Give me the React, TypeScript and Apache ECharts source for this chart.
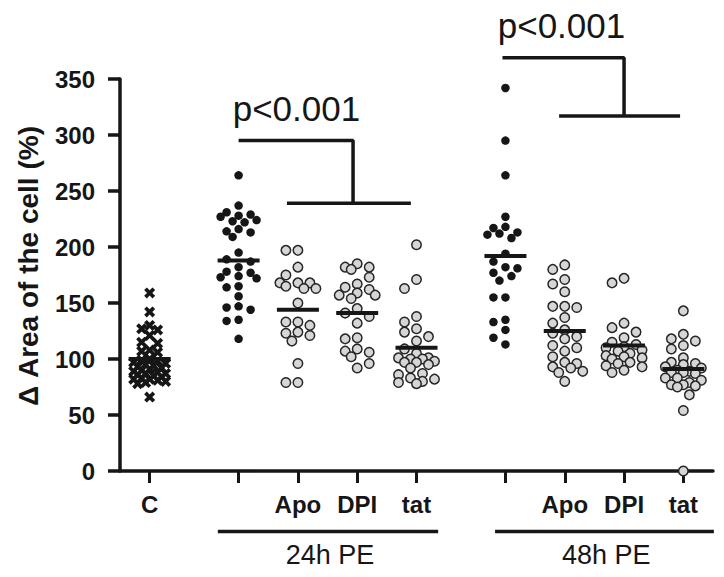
import React, { useEffect, useRef } from "react";
import * as echarts from "echarts";

// x-axis slots (half-unit spacing); empty strings are unlabeled slots
const axisCategories = ["", "C", "", "", "", "", "Apo", "", "DPI", "", "tat", "", "", "", "", "Apo", "", "DPI", "", "tat", ""];
const tickSlots = [1, 4, 6, 8, 10, 13, 15, 17, 19];

// values (Δ area of the cell, %)
const controlC = [159, 142, 130, 127, 126, 121, 115, 114, 108, 107, 106, 100, 99, 98, 97, 96, 95, 94, 93, 92, 91, 90, 89, 88, 87, 87, 86, 85, 84, 83, 82, 82, 81, 80, 79, 78, 66];
const pe24 = [264, 237, 231, 229, 228, 227, 224, 223, 222, 216, 214, 213, 209, 195, 189, 187, 182, 178, 177, 174, 173, 172, 165, 164, 156, 147, 146, 144, 135, 134, 118];
const apo24 = [197, 197, 182, 175, 168, 168, 168, 165, 163, 163, 150, 133, 133, 130, 124, 123, 121, 116, 96, 79, 79];
const dpi24 = [185, 182, 182, 180, 173, 167, 164, 162, 159, 157, 157, 154, 145, 141, 138, 132, 119, 118, 109, 107, 106, 102, 96, 92];
const tat24 = [202, 171, 163, 138, 133, 127, 124, 120, 116, 109, 105, 101, 101, 100, 100, 98, 97, 97, 95, 92, 87, 86, 83, 82, 80, 79, 78];
const pe48 = [342, 295, 264, 227, 218, 217, 213, 212, 211, 208, 194, 187, 182, 181, 177, 174, 170, 155, 155, 135, 133, 126, 119, 113];
const apo48 = [184, 180, 171, 167, 160, 147, 147, 146, 137, 132, 126, 123, 120, 118, 112, 110, 107, 102, 97, 96, 93, 92, 89, 88, 80];
const dpi48 = [172, 168, 132, 128, 124, 119, 115, 113, 111, 110, 108, 107, 105, 103, 102, 101, 100, 97, 96, 94, 93, 90, 88];
const tat48 = [143, 122, 118, 116, 112, 109, 101, 97, 96, 95, 93, 92, 90, 89, 88, 88, 87, 83, 83, 81, 79, 77, 77, 76, 75, 68, 54, 0];

const groupMeans = [100, 188, 144, 141, 110, 192, 125, 112, 91];

// annotation paths in data space
const bracket24h = [[4, 295], [7.86, 295], [7.86, 239], [5.63, 239], [9.81, 239]];
const bracket48h = [[12.9, 369], [17.0, 369], [17.0, 317], [14.81, 317], [18.89, 317]];
const pLabels = [
  { value: [5.95, 324], name: "p<0.001" },
  { value: [14.89, 398], name: "p<0.001" },
];
const periodLines = [[[3.3, -54], [10.73, -54]], [[12.65, -54], [20.03, -54]]];
const periodLabels = [
  { value: [7.08, -75], name: "24h PE" },
  { value: [16.4, -75], name: "48h PE" },
];

const INK = "#161616";
const FONT = '"Liberation Sans", Arial, Helvetica, sans-serif';
const CROSS = "path://M0,2.4 L2.4,0 L5,2.6 L7.6,0 L10,2.4 L7.4,5 L10,7.6 L7.6,10 L5,7.4 L2.4,10 L0,7.6 L2.6,5 Z";

function swarm(values: number[], diameter: number, step: number, maxOff: number, pxPerValue: number): number[] {
  const order = values.map((_, i) => i).sort((a, b) => values[b] - values[a]);
  const placed: { x: number; y: number }[] = [];
  const offs = new Array(values.length).fill(0);
  const cands = [0, -step, step, -step / 2, step / 2, -1.5 * step, 1.5 * step, -2 * step, 2 * step].filter(
    (o) => Math.abs(o) <= maxOff
  );
  for (const i of order) {
    const y = values[i] * pxPerValue;
    let best = 0;
    let bestD = -1;
    for (const c of cands) {
      let md = Infinity;
      for (const p of placed) {
        const d = Math.hypot(p.x - c, p.y - y);
        if (d < md) md = d;
      }
      if (md >= diameter) {
        best = c;
        break;
      }
      if (md > bestD) {
        bestD = md;
        best = c;
      }
    }
    placed.push({ x: best, y });
    offs[i] = best;
  }
  return offs;
}

export default function App() {
  const ref = useRef<HTMLDivElement>(null);
  useEffect(() => {
    document.body.style.margin = "0";
    if (!ref.current) return;
    const chart = echarts.init(ref.current, undefined, { renderer: "svg" });
    const pxPerValue = 392 / 350;

    const groups = [
      { data: controlC, kind: "cross" },
      { data: pe24, kind: "black" },
      { data: apo24, kind: "grey" },
      { data: dpi24, kind: "grey" },
      { data: tat24, kind: "grey" },
      { data: pe48, kind: "black" },
      { data: apo48, kind: "grey" },
      { data: dpi48, kind: "grey" },
      { data: tat48, kind: "grey" },
    ];

    const pointSeries = groups.map((g, gi) => {
      const pos = tickSlots[gi];
      const offs =
        g.kind === "cross"
          ? swarm(g.data, 8, 8, 16, pxPerValue)
          : g.kind === "black"
          ? swarm(g.data, 9, 12, 18, pxPerValue)
          : swarm(g.data, 10, 12, 18, pxPerValue);
      const style =
        g.kind === "cross"
          ? { symbol: CROSS, symbolSize: 11, itemStyle: { color: INK, opacity: 1 } }
          : g.kind === "black"
          ? { symbol: "circle", symbolSize: 8.5, itemStyle: { color: INK, opacity: 1 } }
          : {
              symbol: "circle",
              symbolSize: 9.5,
              itemStyle: { color: "#d6d6d6", borderColor: "#262626", borderWidth: 1.5, opacity: 1 },
            };
      return {
        type: "scatter",
        xAxisIndex: 0,
        yAxisIndex: 0,
        clip: false,
        z: 3,
        ...style,
        data: g.data.map((v, i) => ({ value: [pos, v], symbolOffset: [offs[i], 0] })),
      };
    });

    const textSeries = (data: any[], size: number) => ({
      type: "scatter",
      xAxisIndex: 0,
      clip: false,
      symbolSize: 0,
      itemStyle: { opacity: 1 },
      data,
      label: {
        show: true,
        position: "inside",
        formatter: (p: any) => p.name,
        color: INK,
        opacity: 1,
        fontFamily: FONT,
        fontSize: size,
      },
    });

    const option: any = {
      animation: false,
      grid: { left: 120, right: 11, top: 79, bottom: 106, containLabel: false, outerBoundsMode: "none" },
      xAxis: [
        { type: "value", min: 0, max: 20, show: false },
        {
          type: "category",
          data: axisCategories,
          boundaryGap: false,
          position: "bottom",
          axisLine: { show: true, lineStyle: { color: INK, width: 3.5 } },
          axisTick: {
            show: true,
            length: 12,
            interval: (index: number) => tickSlots.includes(index),
            lineStyle: { color: INK, width: 3 },
          },
          axisLabel: {
            interval: (index: number) => tickSlots.includes(index),
            color: INK,
            fontFamily: FONT,
            fontWeight: "bold",
            fontSize: 24,
            margin: 21,
          },
          splitLine: { show: false },
        },
      ],
      yAxis: {
        type: "value",
        min: 0,
        max: 350,
        interval: 50,
        axisLine: { show: true, lineStyle: { color: INK, width: 3.5 } },
        axisTick: { show: true, length: 12, lineStyle: { color: INK, width: 3.5 } },
        axisLabel: { color: INK, fontFamily: FONT, fontWeight: "bold", fontSize: 24, margin: 25 },
        splitLine: { show: false },
      },
      graphic: [
        {
          type: "text",
          x: 28,
          y: 266,
          rotation: Math.PI / 2,
          style: {
            text: "Δ Area of the cell (%)",
            font: `bold 28px ${FONT}`,
            fill: INK,
            align: "center",
            verticalAlign: "middle",
          },
        },
      ],
      series: [
        ...pointSeries,
        {
          type: "scatter",
          xAxisIndex: 0,
          symbol: "rect",
          symbolSize: [42, 4],
          itemStyle: { color: INK, opacity: 1 },
          z: 5,
          data: groupMeans.map((m, i) => [tickSlots[i], m]),
        },
        ...[bracket24h, bracket48h].map((b) => ({
          type: "line",
          xAxisIndex: 0,
          clip: false,
          symbol: "none",
          lineStyle: { color: INK, width: 3.5 },
          data: b,
        })),
        ...periodLines.map((l) => ({
          type: "line",
          xAxisIndex: 0,
          clip: false,
          symbol: "none",
          lineStyle: { color: INK, width: 3.5 },
          data: l,
        })),
        textSeries(pLabels, 35),
        textSeries(periodLabels, 27),
      ],
    };
    chart.setOption(option);
    return () => chart.dispose();
  }, []);
  return <div ref={ref} style={{ width: 724, height: 577 }} />;
}
